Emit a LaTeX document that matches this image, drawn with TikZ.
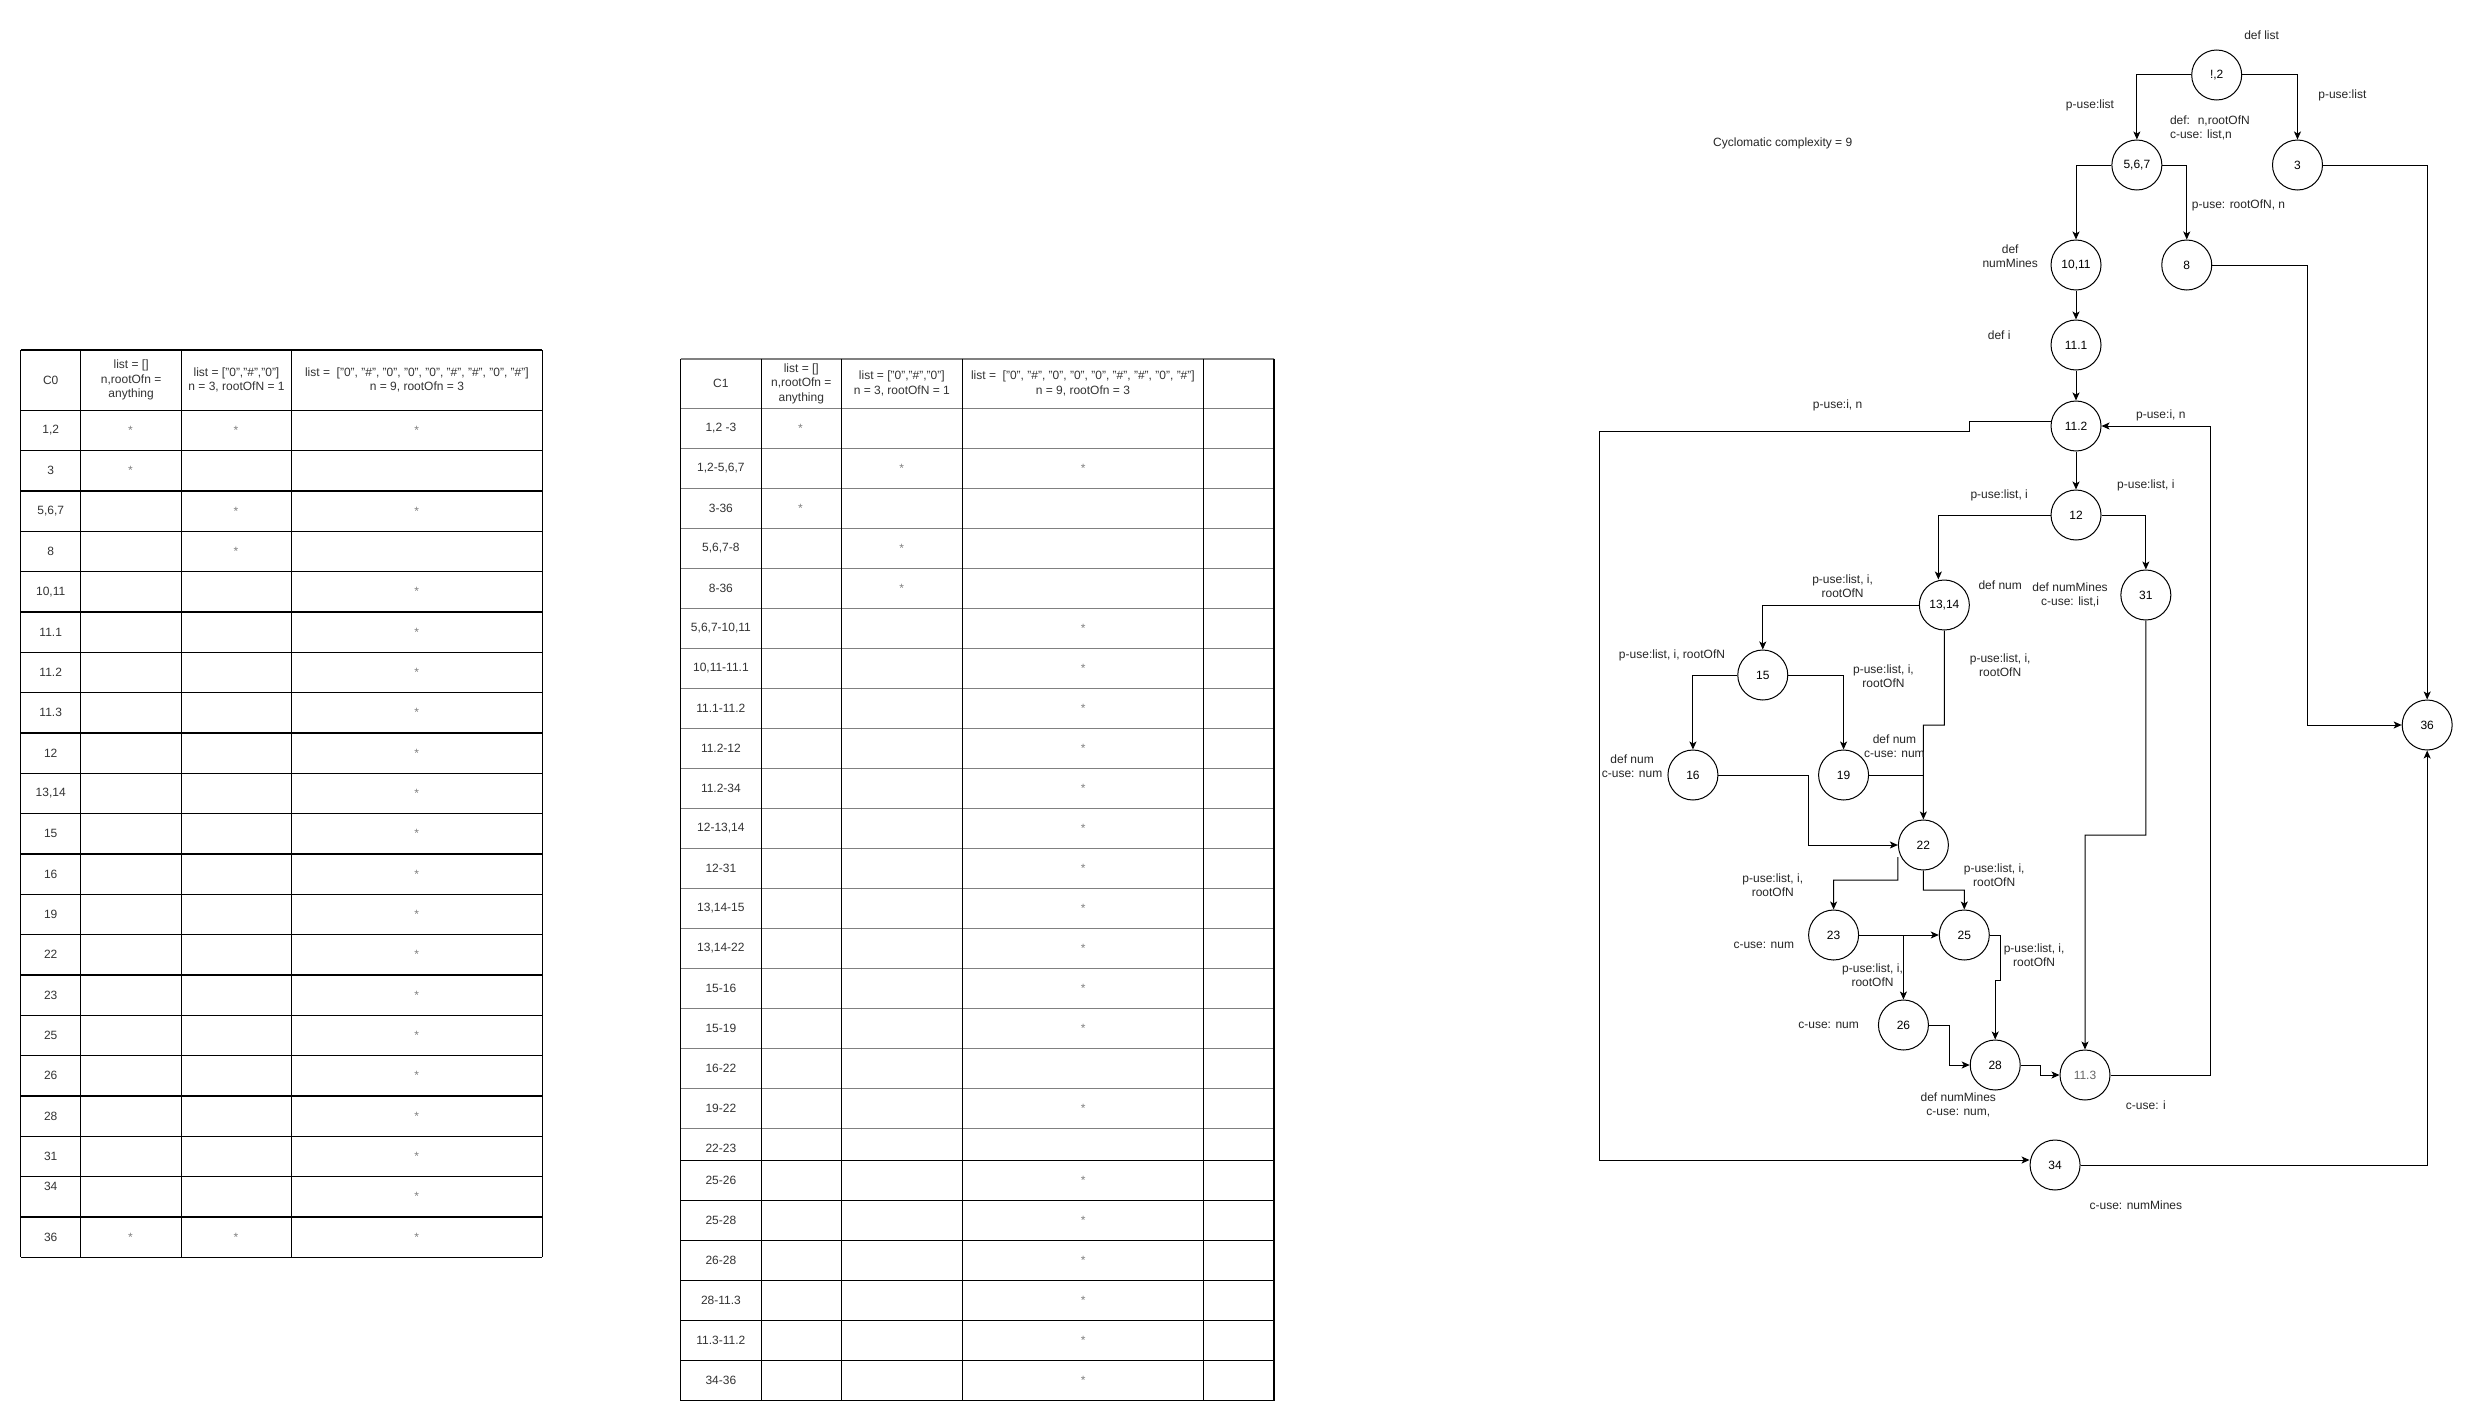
\documentclass[tikz,border=0pt]{standalone}
\usepackage{fontspec}
\setmainfont{Liberation Sans}
\usetikzlibrary{arrows.meta}
\definecolor{tgray}{RGB}{128,128,128}
\definecolor{ttext}{RGB}{51,51,51}
\begin{document}
\begin{tikzpicture}[x=1pt,y=-1pt,
  every node/.style={font=\fontsize{12}{14.5}\selectfont, inner sep=0pt},
  vert/.style={draw, circle, minimum size=50pt, inner sep=0pt, line width=1pt},
  edge/.style={line width=1pt, -{Stealth[length=8pt,width=7pt,inset=2pt]}},
  plainline/.style={line width=1pt},
  tline/.style={line width=1.2pt},
  gline/.style={line width=1.8pt, draw=tgray},
  cell/.style={text=ttext, align=center},
  starcell/.style={text=gray},
  lbl/.style={align=center, text=black!85}
]
\fill[white] (0,0) rectangle (2471,1421);
\useasboundingbox (0,0) rectangle (2471,1421);

% ---------------- Table C0 ----------------
\foreach \xx in {20.6,80.8,181.4,291.6,542.2}
  \draw[tline] (\xx,350) -- (\xx,1257.3);
\draw[tline] (20.6,350) -- (542.2,350);
\foreach \k in {0,...,21}
  \draw[tline] (20.6,{410.3+40.333*\k}) -- (542.2,{410.3+40.333*\k});

\node[cell] (h10) at (50.7,380) {C0};
\node[cell] (h11) at (131.1,380) {list = []\\n,rootOfn =\\anything};
\node[cell] (h12) at (236.5,380) {list = ["0","\#","0"]\\n = 3, rootOfN = 1};
\node[cell] (h13) at (416.9,380) {list =~ ["0", "\#", "0", "0", "0", "\#", "\#", "0", "\#"]\\n = 9, rootOfn = 3};

\foreach \lab/\dy [count=\i] in {{1,2}/0,3/0,{5,6,7}/0,8/0,{10,11}/0,11.1/0,11.2/0,11.3/0,12/0,{13,14}/0,15/0,16/0,19/0,22/0,23/0,25/0,26/0,28/0,31/0,34/-10,36/0}
  \node[cell] (ta\i) at (50.7,{410.3+40.333*(\i-0.5)+\dy}) {\lab};

\foreach \c/\xx/\r in {2/130.4/1,3/236/1,4/416.6/1,2/130.4/2,3/236/3,4/416.6/3,3/236/4,
   4/416.6/5,4/416.6/6,4/416.6/7,4/416.6/8,4/416.6/9,4/416.6/10,4/416.6/11,4/416.6/12,4/416.6/13,4/416.6/14,
   4/416.6/15,4/416.6/16,4/416.6/17,4/416.6/18,4/416.6/19,4/416.6/20,2/130.4/21,3/236/21,4/416.6/21}
  \node[starcell] (sa\c-\r) at (\xx,{410.3+40.333*(\r-0.5)}) {*};

% ---------------- Table C1 ----------------
\draw[gline] (680.7,358.6) -- (1274,358.6);
\draw[gline] (680.7,408.5) -- (1274,408.5);
\foreach \k in {1,...,18}
  \draw[gline] (680.7,{408.5+40*\k}) -- (1274,{408.5+40*\k});
\foreach \k in {0,...,6}
  \draw[tline] (680.7,{1160.5+40*\k}) -- (1274,{1160.5+40*\k});
\foreach \xx in {680.7,761.1,841.5,962.1,1203.7,1274}
  \draw[tline] (\xx,358.6) -- (\xx,1400.5);

\node[cell] (h20) at (720.9,383.5) {C1};
\node[cell] (h21) at (801.3,383.5) {list = []\\n,rootOfn =\\anything};
\node[cell] (h22) at (901.8,383.5) {list = ["0","\#","0"]\\n = 3, rootOfN = 1};
\node[cell] (h23) at (1082.9,383.5) {list =~ ["0", "\#", "0", "0", "0", "\#", "\#", "0", "\#"]\\n = 9, rootOfn = 3};

\foreach \lab/\yy [count=\i] in {{1,2 -3}/428.5,{1,2-5,6,7}/468.5,3-36/508.5,{5,6,7-8}/548.5,8-36/588.5,
   {5,6,7-10,11}/628.5,{10,11-11.1}/668.5,11.1-11.2/708.5,11.2-12/748.5,11.2-34/788.5,
   {12-13,14}/828.5,12-31/868.5,{13,14-15}/908.5,{13,14-22}/948.5,15-16/988.5,15-19/1028.5,
   16-22/1068.5,19-22/1108.5,22-23/1148.5,25-26/1180.5,25-28/1220.5,26-28/1260.5,
   28-11.3/1300.5,11.3-11.2/1340.5,34-36/1380.5}
  \node[cell] (tb\i) at (720.9,\yy) {\lab};

\foreach \c/\xx/\r in {2/800.5/1,3/901.6/2,4/1083.1/2,2/800.5/3,3/901.6/4,3/901.6/5,
   4/1083.1/6,4/1083.1/7,4/1083.1/8,4/1083.1/9,4/1083.1/10,4/1083.1/11,4/1083.1/12,
   4/1083.1/13,4/1083.1/14,4/1083.1/15,4/1083.1/16,4/1083.1/18,
   4/1083.1/20,4/1083.1/21,4/1083.1/22,4/1083.1/23,4/1083.1/24,4/1083.1/25}
  {\pgfmathsetmacro\yy{\r<19 ? 388.5+40*\r : 380.5+40*\r}
   \node[starcell] (sb\c-\r) at (\xx,\yy) {*};}

% ---------------- Graph ----------------
\begin{scope}[xscale=0.9976]
\node[vert] (n12) at (2222,75) {!,2};
\node[vert] (n567) at (2142,165) {5,6,7};
\node[vert] (n3) at (2303,165) {3};
\node[vert] (n1011) at (2081,265) {10,11};
\node[vert] (n8) at (2192,265) {8};
\node[vert] (n111) at (2081,345) {11.1};
\node[vert] (n112) at (2081,426) {11.2};
\node[vert] (nn12) at (2081,515) {12};
\node[vert] (n1314) at (1949,605) {13,14};
\node[vert] (n31) at (2151,595) {31};
\node[vert] (n15) at (1767,675) {15};
\node[vert] (n16) at (1697,775) {16};
\node[vert] (n19) at (1848,775) {19};
\node[vert] (n36) at (2433,725) {36};
\node[vert] (n22) at (1928,845) {22};
\node[vert] (n23) at (1838,935) {23};
\node[vert] (n25) at (1969,935) {25};
\node[vert] (n26) at (1908,1025) {26};
\node[vert] (n28) at (2000,1065) {28};
\node[vert, text=black!60] (n113) at (2090,1075) {11.3};
\node[vert] (n34) at (2060,1165) {34};

\coordinate (j1) at (1908,935);

\draw[edge] (n12.west) -| (n567.north);
\draw[edge] (n12.east) -| (n3.north);
\draw[edge] (n567.west) -| (n1011.north);
\draw[edge] (n567.east) -| (n8.north);
\draw[edge] (n3.east) -| (n36.north);
\draw[edge] (n8.east) -| (2313,725) -- (n36.west);
\draw[edge] (n1011.south) -- (n111.north);
\draw[edge] (n111.south) -- (n112.north);
\draw[edge] ([yshift=5pt]n112.west) -- (1974,421) -- (1974,431) -- (1603,431) |- ([yshift=5pt]n34.west);
\draw[edge] (n112.south) -- (nn12.north);
\draw[edge] (n113.east) -| (2216,426) -- (n112.east);
\draw[edge] (nn12.west) -| ([xshift=-6pt]n1314.north);
\draw[edge] (nn12.east) -| (n31.north);
\draw[edge] (n31.south) |- (2090,835) -- (n113.north);
\draw[edge] (n1314.west) -| (n15.north);
\draw[edge] (n1314.south) |- (1928,725) -- (n22.north);
\draw[edge] (n15.west) -| (n16.north);
\draw[edge] (n15.east) -| (n19.north);
\draw[edge] (n16.east) -| (1812.5,845) -- (n22.west);
\draw[plainline] (n19.east) -- (1928,775);
\draw[edge] ([yshift=-12pt]n22.west) |- (1838,880) -- (n23.north);
\draw[edge] (n22.south) |- (1969,890) -- (n25.north);
\draw[edge] (n23.east) -- (n25.west);
\draw[edge] (j1) -- (n26.north);
\draw[edge] (n25.east) -| (2005,980) -| (n28.north);
\draw[edge] (n26.east) -| (1954,1065) -- (n28.west);
\draw[edge] (n28.east) -| (2045,1075) -- (n113.west);
\draw[edge] (n34.east) -| (n36.south);

% labels
\node[lbl] (l1) at (2267,35) {def list};
\node[lbl] (l2) at (2095,105) {p-use:list};
\node[lbl] (l3) at (2348,95) {p-use:list};
\node[lbl, align=left, anchor=west] (l4) at (2175,128) {def:~ n,rootOfN\\c-use: list,n};
\node[lbl] (lcc) at (1787,143) {Cyclomatic complexity = 9};
\node[lbl, anchor=west] (l5) at (2197,205) {p-use: rootOfN, n};
\node[lbl] (l6) at (2015,256) {def\\numMines};
\node[lbl] (l7) at (2004,335) {def i};
\node[lbl] (l8) at (1842,405) {p-use:i, n};
\node[lbl] (l9) at (2166,415) {p-use:i, n};
\node[lbl] (l10) at (2004,495) {p-use:list, i};
\node[lbl] (l11) at (2151,485) {p-use:list, i};
\node[lbl] (l12) at (2075,595) {def numMines\\c-use: list,i};
\node[lbl] (l13) at (2005,585) {def num};
\node[lbl] (l14) at (1847,586) {p-use:list, i,\\rootOfN};
\node[lbl] (l15) at (2005,665) {p-use:list, i,\\rootOfN};
\node[lbl] (l16) at (1676,655) {p-use:list, i, rootOfN};
\node[lbl] (l17) at (1888,676) {p-use:list, i,\\rootOfN};
\node[lbl] (l18) at (1636,766) {def num\\c-use: num};
\node[lbl] (l19) at (1899,746) {def num\\c-use: num};
\node[lbl] (l20) at (1777,885) {p-use:list, i,\\rootOfN};
\node[lbl] (l21) at (1999,875) {p-use:list, i,\\rootOfN};
\node[lbl] (l22) at (1768,945) {c-use: num};
\node[lbl] (l23) at (1877,975) {p-use:list, i,\\rootOfN};
\node[lbl] (l24) at (2039,955) {p-use:list, i,\\rootOfN};
\node[lbl] (l25) at (1833,1025) {c-use: num};
\node[lbl] (l26) at (1963,1105) {def numMines\\c-use: num,};
\node[lbl] (l27) at (2151,1105) {c-use: i};
\node[lbl] (l28) at (2141,1205) {c-use: numMines};
\end{scope}
\end{tikzpicture}
\end{document}
